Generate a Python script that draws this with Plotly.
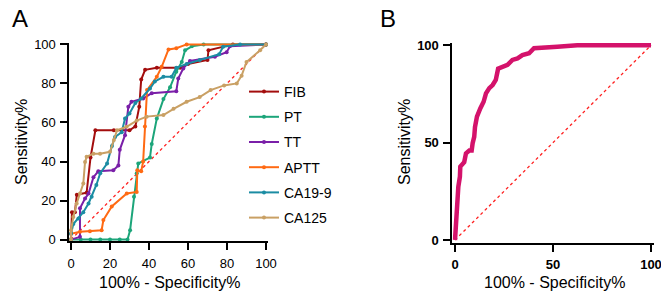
import plotly.graph_objects as go

# ---- data ----
fib_x = [0, 0.5, 2, 3, 8, 10, 12.5, 22, 30, 33, 35, 36, 38, 44, 56, 60, 70, 70.5, 83, 100]
fib_y = [0, 14, 14, 23, 24, 42, 56, 56, 56, 58, 68, 82, 87, 88, 88, 90, 92, 97, 100, 100]

pt_x = [0, 5, 10, 15, 20, 25, 29, 30.3, 32.3, 33.7, 34.5, 40.5, 41.4, 44, 47.4, 50.8, 54, 56.8, 58.5, 62, 68, 100]
pt_y = [0, 0, 0, 0, 0, 0, 0, 4.8, 22, 34, 39, 42, 49, 62, 72, 78, 86, 91, 97, 99, 100, 100]

tt_x = [0, 4.6, 4.6, 7.2, 9, 11.5, 14, 21.7, 24.3, 25, 27.7, 29.4, 31, 37, 41.4, 54, 55, 57.6, 61, 73.8, 79.8, 81.5, 100]
tt_y = [0, 1.4, 16, 21, 23.6, 32, 35, 35.5, 38, 46, 53.5, 68, 70.6, 72.3, 75, 76, 82.5, 87.7, 91.5, 93.7, 96, 99, 100]

aptt_x = [0, 0, 4.6, 9.7, 15.7, 16.6, 20.9, 28.6, 33.7, 34, 36, 37, 37.9, 39, 44, 46.5, 50, 54, 59.3, 100]
aptt_y = [0, 3, 4, 4.3, 4.8, 10, 17, 23.6, 24.4, 35.5, 35, 40, 58, 76.6, 83.4, 88.5, 97.4, 98, 100, 100]

ca199_x = [0, 0, 1.2, 3.8, 6.3, 9, 10.6, 13, 15, 18.5, 21, 22.6, 26, 27.7, 30, 33, 36, 40.5, 43, 47.4, 51.6, 54, 59.3, 66, 76, 78, 86.7, 100]
ca199_y = [0, 3, 8, 10.8, 14, 18.5, 22, 28, 34, 39, 48, 52.6, 55, 62, 64.6, 70, 72.3, 77.4, 81, 83.4, 83.4, 88, 90, 92, 95, 98.8, 100, 100]

ca125_x = [0, 0, 1.2, 2.9, 4.6, 6.3, 7.2, 8, 11.5, 14.9, 20, 22, 23.6, 28.5, 33.7, 38.8, 47.4, 52.6, 59.3, 66, 71.6, 78.5, 85, 87.5, 90, 97, 100]
ca125_y = [0, 4.8, 11.6, 18.5, 23.6, 28.7, 39.8, 42.4, 44, 44, 45, 51, 56, 57.8, 61, 63, 63.8, 67, 70.6, 73, 76.6, 79, 80, 84, 91, 97, 100]

b_x = [0, 0.5, 1, 1.7, 2.5, 2.7, 4.7, 5.6, 7.3, 8.5, 9, 9.8, 10.2, 11.2, 12.9, 14.6, 15.8, 17.5, 19.2, 20.8, 22, 25, 26.8, 29.3, 31.9, 34.4, 37.8, 40.3, 45.4, 52.2, 62.4, 100]
b_y = [0, 12, 22, 27.4, 32.5, 37.7, 40, 44.5, 46, 46, 49.7, 53, 58, 63.4, 67.6, 71, 75.3, 78, 79.6, 82.2, 88, 89.4, 90, 92.5, 93.3, 95, 95.9, 98.5, 99, 99.3, 100, 100]

diag = [0, 100]
ticks_a = [0, 20, 40, 60, 80, 100]
ticks_b = [0, 50, 100]

series = [
    ("FIB", fib_x, fib_y, "#A30D0D"),
    ("PT", pt_x, pt_y, "#1CA57A"),
    ("TT", tt_x, tt_y, "#7A1FA8"),
    ("APTT", aptt_x, aptt_y, "#FF6A13"),
    ("CA19-9", ca199_x, ca199_y, "#1B8CA3"),
    ("CA125", ca125_x, ca125_y, "#C9A064"),
]

# page has an 8px body margin; figure is sized to fill the rest of the window
OFF = 8
W, H = 669 - OFF, 303 - OFF
FONT = "Liberation Sans, Arial, sans-serif"


def px(v):
    return v - OFF


fig = go.Figure()

fig.add_trace(go.Scatter(x=diag, y=diag, mode="lines", xaxis="x", yaxis="y",
                         line=dict(color="#FF2020", width=1.3, dash="dot"),
                         showlegend=False, hoverinfo="skip"))
for name, xs, ys, col in series:
    fig.add_trace(go.Scatter(x=xs, y=ys, mode="lines+markers", name=name,
                             xaxis="x", yaxis="y", legendgroup=name,
                             line=dict(color=col, width=2),
                             marker=dict(color=col, size=4),
                             cliponaxis=False))

fig.add_trace(go.Scatter(x=diag, y=diag, mode="lines", xaxis="x2", yaxis="y2",
                         line=dict(color="#FF2020", width=1.3, dash="dot"),
                         showlegend=False, hoverinfo="skip"))
fig.add_trace(go.Scatter(x=b_x, y=b_y, mode="lines", xaxis="x2", yaxis="y2",
                         line=dict(color="#D4126B", width=4.5),
                         showlegend=False, cliponaxis=False))


def dom(p0, p100, pad, total, flip=False):
    p0, p100 = px(p0), px(p100)
    per = (p100 - p0) / 100.0
    a = p0 - pad * per
    b = p100 + pad * per
    if flip:
        return [1 - a / total, 1 - b / total]
    return [a / total, b / total]


padA = 0.8
padB = 1.3
xa = dom(71, 266, padA, W)
ya = dom(239.6, 44.4, padA, H, flip=True)
xb = dom(455, 651, padB, W)
yb = dom(240, 45.3, padB, H, flip=True)

axis_common = dict(showline=True, linecolor="black", linewidth=2, ticks="outside",
                   ticklen=7, tickwidth=2, tickcolor="black", showgrid=False,
                   zeroline=False, fixedrange=True, automargin=False,
                   ticklabelstandoff=2)

fig.update_layout(
    template="none",
    width=W, height=H,
    margin=dict(l=0, r=0, t=0, b=0, pad=0, autoexpand=False),
    paper_bgcolor="white", plot_bgcolor="white",
    font=dict(family=FONT, color="black"),
    xaxis=dict(domain=xa, range=[-padA, 100 + padA], tickvals=ticks_a,
               tickfont=dict(size=13, family=FONT), anchor="y", **axis_common),
    yaxis=dict(domain=[ya[0], ya[1]], range=[-padA, 100 + padA], tickvals=ticks_a,
               tickfont=dict(size=13, family=FONT), anchor="x", **axis_common),
    xaxis2=dict(domain=xb, range=[-padB, 100 + padB], tickvals=ticks_b,
                tickfont=dict(size=13, family=FONT, weight="bold"), anchor="y2", **axis_common),
    yaxis2=dict(domain=[yb[0], yb[1]], range=[-padB, 100 + padB], tickvals=ticks_b,
                tickfont=dict(size=13, family=FONT, weight="bold"), anchor="x2", **axis_common),
    showlegend=True,
    legend=dict(x=px(244) / W, y=1 - px(76) / H, xanchor="left", yanchor="top",
                font=dict(size=14, family=FONT), tracegroupgap=4,
                bgcolor="rgba(0,0,0,0)", itemwidth=30),
)

ann = [
    dict(text="A", x=19.5, y=18.5, font=dict(size=24)),
    dict(text="B", x=388, y=18.5, font=dict(size=24)),
    dict(text="Sensitivity%", x=22, y=142, font=dict(size=16), textangle=-90),
    dict(text="Sensitivity%", x=405, y=142, font=dict(size=16), textangle=-90),
    dict(text="100% - Specificity%", x=169, y=282, font=dict(size=16)),
    dict(text="100% - Specificity%", x=554, y=282, font=dict(size=16)),
]
for a in ann:
    a["x"] = px(a["x"]) / W
    a["y"] = 1 - px(a["y"]) / H
    a.update(xref="paper", yref="paper", showarrow=False, xanchor="center", yanchor="middle")
    a["font"]["family"] = FONT
    a["font"]["color"] = "black"
    fig.add_annotation(**a)

fig.write_html("out.html")
